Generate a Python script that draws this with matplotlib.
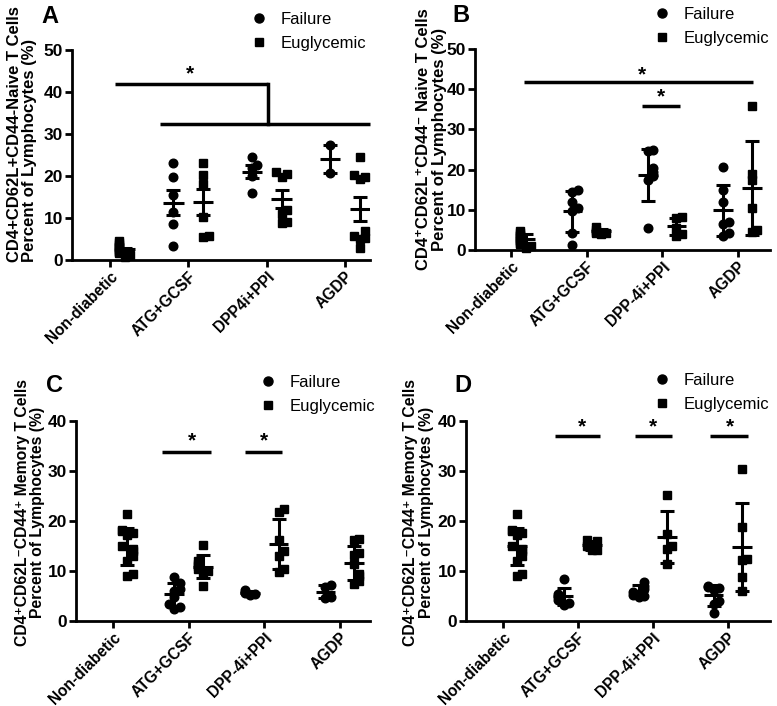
import numpy as np
import matplotlib
matplotlib.use("Agg")
import matplotlib.pyplot as plt

plt.rcParams['font.family'] = ['Liberation Sans', 'DejaVu Sans']

groups = ["Non-diabetic", "ATG+GCSF", "DPP4i+PPI", "AGDP"]
groups2 = ["Non-diabetic", "ATG+GCSF", "DPP-4i+PPI", "AGDP"]

# panel A (mean +/- SEM)
a_nondiab = [4.5, 4.0, 3.6, 3.2, 3.0, 2.6, 2.2, 2.0, 1.6, 1.2, 0.8]
a_fail = [[23.0, 19.7, 15.5, 11.5, 8.5, 3.3],
          [24.6, 22.7, 22.0, 20.0, 16.0],
          [27.5, 20.7]]
a_eug = [[23.2, 20.3, 18.2, 10.2, 5.5, 5.8],
         [21.0, 20.5, 19.8, 11.8, 11.0, 9.0, 8.8],
         [24.5, 20.2, 19.8, 19.2, 7.0, 5.8, 5.2, 5.0, 2.8]]

# panel B (mean +/- SD)
b_nondiab = [4.8, 4.3, 3.8, 3.4, 3.0, 2.6, 2.2, 1.8, 1.4, 1.0, 0.6]
b_fail = [[15.0, 14.5, 12.0, 10.5, 9.8, 4.2, 1.2],
          [24.8, 24.6, 20.5, 19.5, 18.5, 17.5, 5.5],
          [20.7, 15.0, 12.0, 7.0, 6.5, 4.2, 3.6]]
b_eug = [[5.8, 5.0, 4.5, 4.3, 4.2, 4.0],
         [8.3, 7.9, 5.5, 4.0, 3.6],
         [35.8, 19.0, 17.5, 10.5, 5.0, 4.5]]

# panel C (mean +/- SD)
c_nondiab = [21.5, 18.2, 18.0, 17.6, 17.2, 15.0, 14.5, 14.0, 13.0, 12.0, 9.5, 9.0]
c_fail = [[8.8, 7.6, 6.5, 6.0, 4.8, 3.5, 2.8, 2.5],
          [6.2, 5.8, 5.6, 5.4, 5.2],
          [7.3, 6.8, 4.8, 4.6]]
c_eug = [[15.2, 12.0, 11.5, 11.0, 10.5, 10.0, 9.5, 7.0],
         [22.5, 21.8, 16.2, 14.0, 13.0, 10.5, 9.8],
         [16.4, 16.2, 13.6, 13.2, 11.5, 9.5, 9.0, 8.0, 7.5]]

# panel D (mean +/- SD)
d_nondiab = c_nondiab
d_fail = [[8.4, 5.5, 5.0, 4.8, 4.2, 3.6, 3.2],
          [7.8, 7.0, 6.5, 5.8, 5.2, 5.0, 4.8],
          [7.0, 6.9, 6.6, 6.2, 4.0, 3.5, 1.7]]
d_eug = [[16.2, 16.0, 15.0, 14.3, 14.2],
         [25.3, 17.5, 15.0, 14.5, 11.5],
         [30.5, 18.9, 12.5, 12.2, 8.8, 6.0]]

fig = plt.figure(figsize=(7.77, 7.06), dpi=100)
W, H = 777, 706


def make_ax(l, r, t, b):
    return fig.add_axes([l / W, 1 - b / H, (r - l) / W, (b - t) / H])


def swarm(vals, x0, ppu, dx=0.07):
    # spread points that would overlap, kept in a narrow band
    vals = np.asarray(vals, float)
    order = np.argsort(vals)
    xs = np.full(len(vals), x0)
    placed = []
    for i in order:
        near = [p for p in placed if abs(vals[p] - vals[i]) * ppu < 6.0]
        k = min(len(near), 2)
        off = ((k + 1) // 2) * dx * (1 if k % 2 else -1) if k else 0
        xs[i] = x0 + off
        placed.append(i)
    return xs


def draw_group(ax, vals, x0, marker, ppu, err):
    vals = np.asarray(vals, float)
    ax.plot(swarm(vals, x0, ppu), vals, ls='none', marker=marker, ms=6.2 if marker == 'o' else 5.8,
            color='black', zorder=3, clip_on=False)
    m = vals.mean()
    e = vals.std(ddof=1)
    if err == 'sem':
        e = e / np.sqrt(len(vals))
    ax.errorbar([x0], [m], yerr=[e], fmt='none', ecolor='black', elinewidth=2.2,
                capsize=5, capthick=2.2, zorder=4)
    ax.hlines(m, x0 - 0.13, x0 + 0.13, color='black', lw=2.2, zorder=4)


def style(ax, xlim, ylim, yticks, labels):
    ax.set_xlim(*xlim)
    ax.set_ylim(*ylim)
    ax.set_yticks(yticks)
    ax.set_xticks(range(4))
    ax.set_xticklabels(labels, rotation=45, ha='right', rotation_mode='anchor',
                       fontsize=11.2, fontweight='bold')
    for t in ax.get_yticklabels():
        t.set_fontsize(12.5)
        t.set_fontweight('bold')
    for s in ['top', 'right']:
        ax.spines[s].set_visible(False)
    for s in ['left', 'bottom']:
        ax.spines[s].set_linewidth(2)
    ax.tick_params(width=2, length=5)
    ax.tick_params(axis='y', pad=1.5)
    ax.tick_params(axis='x', pad=1.5)


def panel(box, xlim, ylim, yticks, labels, nondiab, fail, eug, err, ylabel, lab_xy, lab_align, lab_size,
          letter, letter_xy, leg_xy):
    ax = make_ax(*box)
    ppu = (box[3] - box[2]) / (ylim[1] - ylim[0])
    style(ax, xlim, ylim, yticks, labels)
    draw_group(ax, nondiab, 0.19, 's', ppu, err)
    for i in range(3):
        draw_group(ax, fail[i], i + 1 - 0.19, 'o', ppu, err)
        draw_group(ax, eug[i], i + 1 + 0.19, 's', ppu, err)
    hf, = ax.plot([], [], ls='none', marker='o', ms=6.5, color='black', label='Failure')
    hs, = ax.plot([], [], ls='none', marker='s', ms=6.2, color='black', label='Euglycemic')
    ax.legend(handles=[hf, hs], loc='upper left', bbox_to_anchor=(leg_xy[0] / W, 1 - leg_xy[1] / H),
              bbox_transform=fig.transFigure, frameon=False, fontsize=12, borderpad=0,
              handlelength=1.0, handletextpad=0.8, labelspacing=0.55, borderaxespad=0)
    ax.set_ylabel(ylabel, fontsize=lab_size, fontweight='bold', linespacing=1.05, multialignment=lab_align)
    ax.yaxis.set_label_coords(*lab_xy)
    fig.text(letter_xy[0] / W, 1 - letter_xy[1] / H, letter, fontsize=17, fontweight='bold',
             ha='left', va='top')
    return ax


def sig(ax, x1, x2, y, xs, ys):
    ax.plot([x1, x2], [y, y], color='black', lw=2.5, clip_on=False, solid_capstyle='butt')
    ax.text(xs, ys, '*', ha='center', va='center', fontsize=15, fontweight='bold')


axA = panel((72, 370, 50, 260), (-0.485, 3.32), (0, 50), range(0, 51, 10), groups,
            a_nondiab, a_fail, a_eug, 'sem',
            'CD4+CD62L+CD44-Naive T Cells\nPercent of Lymphocytes (%)', (-0.117, 0.6), 'left', 12,
            'A', (41, 5), (251, 12))
axA.plot([0.06, 2.02], [42, 42], color='black', lw=2.5, solid_capstyle='butt')
axA.plot([2.02, 2.02], [42, 32.5], color='black', lw=2.5)
axA.plot([0.64, 3.32], [32.5, 32.5], color='black', lw=2.5, solid_capstyle='butt', clip_on=False)
axA.text(1.02, 44.3, '*', ha='center', va='center', fontsize=15, fontweight='bold')

axB = panel((475, 770, 49, 250), (-0.48, 3.43), (0, 50), range(0, 51, 10), groups2,
            b_nondiab, b_fail, b_eug, 'sd',
            'CD4\u207aCD62L\u207aCD44\u207b Naive T Cells\nPercent of Lymphocytes (%)', (-0.095, 0.55), 'center', 12,
            'B', (452, 4), (654, 7))
sig(axB, 0.17, 3.2, 41.9, 1.73, 43.6)
sig(axB, 1.73, 2.24, 35.9, 1.99, 38.2)

axC = panel((76, 370, 421, 621), (-0.49, 3.40), (0, 40), range(0, 41, 10), groups2,
            c_nondiab, c_fail, c_eug, 'sd',
            'CD4\u207aCD62L\u207bCD44\u207a Memory T Cells\nPercent of Lymphocytes (%)', (-0.105, 0.545), 'center', 11.3,
            'C', (46, 374), (260, 375))
sig(axC, 0.65, 1.30, 33.9, 1.04, 36.0)
sig(axC, 1.74, 2.24, 33.9, 2.0, 36.0)

axD = panel((466, 770, 421, 621), (-0.49, 3.56), (0, 40), range(0, 41, 10), groups2,
            d_nondiab, d_fail, d_eug, 'sd',
            'CD4\u207aCD62L\u207bCD44\u207a Memory T Cells\nPercent of Lymphocytes (%)', (-0.105, 0.545), 'center', 11.3,
            'D', (454, 374), (654, 373))
sig(axD, 0.69, 1.29, 37.0, 1.05, 38.9)
sig(axD, 1.76, 2.25, 37.0, 2.0, 38.9)
sig(axD, 2.76, 3.27, 37.0, 3.03, 38.9)

fig.savefig('out.png', dpi=100)
